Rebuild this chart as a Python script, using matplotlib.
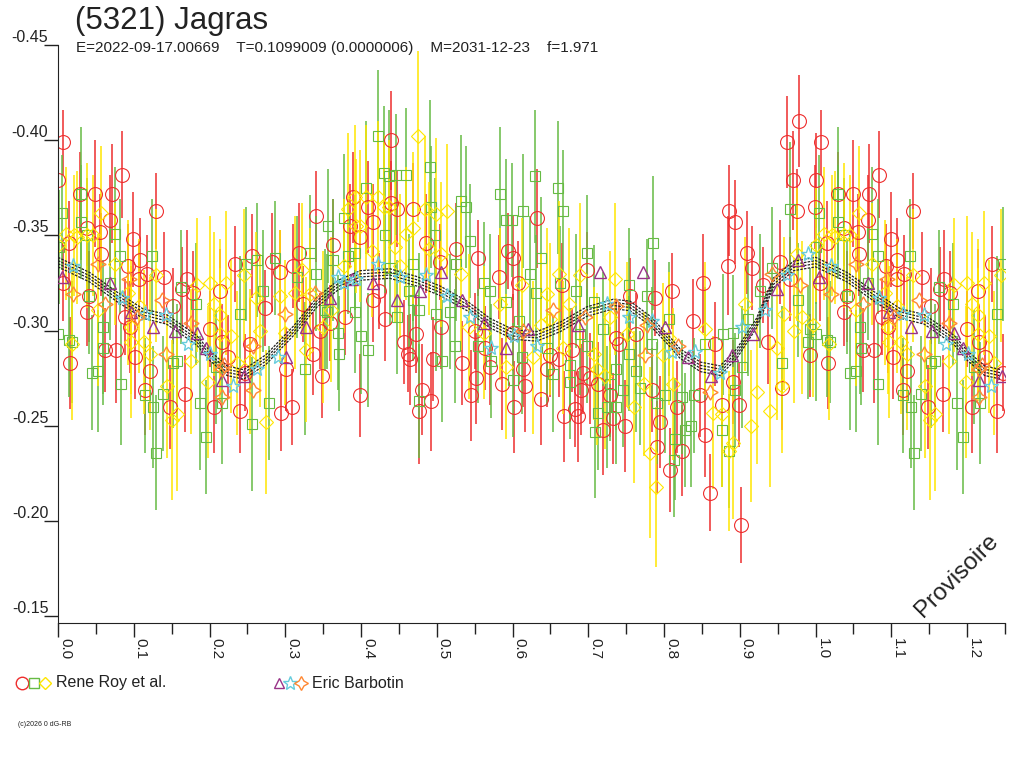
import numpy as np
import matplotlib
matplotlib.use('Agg')
import matplotlib.pyplot as plt
from matplotlib.lines import Line2D

# (phase, magnitude, error), phases 0..1
# points with phase < 0.25 are repeated at phase + 1 as on the original
roy_red = [
    (0.000, -0.379, .025), (0.006, -0.325, .020), (0.007, -0.399, .017), (0.015, -0.346, .022), (0.016, -0.283, .024),
    (0.029, -0.372, .022), (0.038, -0.354, .020), (0.038, -0.310, .018), (0.041, -0.318, .024), (0.049, -0.372, .028),
    (0.056, -0.352, .020), (0.057, -0.340, .022), (0.062, -0.290, .022), (0.069, -0.358, .024), (0.071, -0.372, .026),
    (0.077, -0.290, .028), (0.084, -0.382, .023), (0.088, -0.307, .020), (0.093, -0.334, .022), (0.095, -0.302, .024),
    (0.099, -0.348, .025), (0.102, -0.286, .022), (0.107, -0.327, .020), (0.108, -0.337, .022), (0.115, -0.269, .024),
    (0.117, -0.330, .020), (0.121, -0.279, .022), (0.129, -0.363, .020), (0.140, -0.328, .024), (0.148, -0.260, .022),
    (0.152, -0.313, .020), (0.164, -0.322, .022), (0.168, -0.267, .020), (0.170, -0.327, .026), (0.178, -0.320, .022),
    (0.200, -0.301, .020), (0.206, -0.260, .024), (0.214, -0.321, .022), (0.216, -0.294, .020), (0.224, -0.286, .022),
    (0.233, -0.335, .020), (0.240, -0.258, .022), (0.247, -0.278, .020), (0.253, -0.293, .024), (0.256, -0.339, .022),
    (0.273, -0.312, .020), (0.282, -0.336, .026), (0.293, -0.331, .022), (0.295, -0.257, .020), (0.301, -0.280, .022),
    (0.309, -0.260, .020), (0.310, -0.334, .022), (0.318, -0.341, .026), (0.323, -0.314, .020), (0.337, -0.288, .022),
    (0.341, -0.360, .024), (0.346, -0.300, .020), (0.349, -0.276, .022), (0.359, -0.304, .020), (0.363, -0.345, .024),
    (0.379, -0.307, .020), (0.385, -0.355, .022), (0.390, -0.370, .024), (0.399, -0.266, .022), (0.399, -0.349, .020),
    (0.409, -0.365, .024), (0.416, -0.357, .020), (0.416, -0.316, .022), (0.424, -0.321, .020), (0.432, -0.306, .022),
    (0.440, -0.400, .026), (0.440, -0.367, .022), (0.447, -0.364, .020), (0.457, -0.294, .022), (0.462, -0.288, .020),
    (0.465, -0.285, .024), (0.469, -0.364, .024), (0.473, -0.298, .020), (0.477, -0.258, .028), (0.480, -0.269, .024),
    (0.486, -0.346, .026), (0.492, -0.263, .026), (0.495, -0.285, .022), (0.504, -0.336, .020), (0.506, -0.302, .022),
    (0.525, -0.343, .024), (0.533, -0.283, .022), (0.545, -0.266, .024), (0.550, -0.300, .020), (0.552, -0.275, .024),
    (0.554, -0.338, .020), (0.564, -0.291, .022), (0.570, -0.281, .020), (0.582, -0.328, .022), (0.586, -0.272, .024),
    (0.594, -0.342, .020), (0.601, -0.338, .022), (0.601, -0.299, .020), (0.602, -0.260, .024), (0.607, -0.325, .022),
    (0.614, -0.280, .020), (0.616, -0.271, .024), (0.632, -0.359, .026), (0.637, -0.264, .024), (0.645, -0.280, .020),
    (0.650, -0.287, .022), (0.661, -0.285, .020), (0.665, -0.324, .022), (0.668, -0.255, .024), (0.678, -0.290, .022),
    (0.682, -0.259, .020), (0.687, -0.255, .024), (0.690, -0.269, .024), (0.693, -0.278, .022), (0.698, -0.332, .020),
    (0.702, -0.275, .024), (0.713, -0.272, .022), (0.720, -0.248, .024), (0.729, -0.266, .022), (0.733, -0.254, .024),
    (0.737, -0.296, .020), (0.741, -0.293, .022), (0.749, -0.250, .024), (0.755, -0.318, .020), (0.763, -0.298, .022),
    (0.784, -0.269, .022), (0.788, -0.317, .020), (0.790, -0.239, .024), (0.795, -0.252, .024), (0.808, -0.227, .022),
    (0.811, -0.321, .020), (0.817, -0.260, .024), (0.823, -0.237, .024), (0.838, -0.305, .022), (0.847, -0.266, .022),
    (0.852, -0.325, .026), (0.854, -0.245, .022), (0.860, -0.215, .020), (0.867, -0.293, .022), (0.876, -0.261, .022),
    (0.884, -0.334, .026), (0.886, -0.363, .024), (0.891, -0.273, .022), (0.894, -0.357, .022), (0.899, -0.261, .022),
    (0.902, -0.198, .020), (0.909, -0.341, .022), (0.916, -0.333, .022), (0.931, -0.324, .020), (0.937, -0.294, .022),
    (0.953, -0.336, .022), (0.955, -0.270, .022), (0.962, -0.399, .024), (0.966, -0.327, .022), (0.970, -0.379, .026),
    (0.976, -0.363, .022), (0.978, -0.410, .024), (0.993, -0.287, .022), (0.999, -0.365, .022),
]

roy_green = [
    (0.000, -0.298, .035), (0.001, -0.344, .030), (0.005, -0.362, .030), (0.015, -0.295, .030), (0.019, -0.294, .032),
    (0.030, -0.372, .035), (0.030, -0.357, .030), (0.038, -0.350, .030), (0.041, -0.318, .030), (0.045, -0.278, .030),
    (0.053, -0.279, .032), (0.059, -0.302, .035), (0.060, -0.291, .030), (0.069, -0.325, .030), (0.075, -0.351, .035),
    (0.082, -0.339, .030), (0.083, -0.272, .032), (0.115, -0.266, .030), (0.124, -0.339, .030), (0.126, -0.260, .032),
    (0.130, -0.236, .030), (0.139, -0.267, .030), (0.152, -0.283, .034), (0.157, -0.284, .030), (0.163, -0.323, .030),
    (0.182, -0.314, .032), (0.187, -0.262, .035), (0.195, -0.244, .030), (0.209, -0.281, .030), (0.217, -0.262, .032),
    (0.240, -0.309, .030), (0.248, -0.335, .030), (0.256, -0.251, .035), (0.263, -0.337, .030), (0.270, -0.321, .032),
    (0.279, -0.262, .030), (0.286, -0.338, .030), (0.315, -0.328, .032), (0.326, -0.280, .035), (0.333, -0.341, .030),
    (0.341, -0.330, .030), (0.352, -0.311, .032), (0.355, -0.310, .030), (0.356, -0.355, .030), (0.363, -0.337, .032),
    (0.370, -0.299, .030), (0.371, -0.288, .030), (0.377, -0.359, .034), (0.383, -0.339, .030), (0.392, -0.341, .030),
    (0.392, -0.310, .032), (0.400, -0.297, .030), (0.407, -0.375, .035), (0.409, -0.290, .030), (0.423, -0.402, .035),
    (0.430, -0.383, .035), (0.432, -0.350, .030), (0.437, -0.381, .035), (0.438, -0.333, .030), (0.446, -0.382, .032),
    (0.447, -0.307, .030), (0.460, -0.382, .035), (0.463, -0.321, .030), (0.468, -0.316, .032), (0.469, -0.335, .030),
    (0.476, -0.263, .030), (0.477, -0.311, .030), (0.491, -0.386, .035), (0.492, -0.365, .032), (0.498, -0.350, .030),
    (0.499, -0.309, .030), (0.507, -0.284, .032), (0.517, -0.310, .030), (0.524, -0.292, .030), (0.526, -0.335, .030),
    (0.532, -0.368, .035), (0.539, -0.365, .032), (0.544, -0.347, .030), (0.554, -0.292, .030), (0.562, -0.325, .032),
    (0.570, -0.321, .030), (0.571, -0.284, .030), (0.584, -0.372, .035), (0.591, -0.315, .030), (0.592, -0.358, .032),
    (0.599, -0.358, .030), (0.600, -0.274, .030), (0.608, -0.305, .032), (0.613, -0.286, .030), (0.614, -0.363, .030),
    (0.623, -0.330, .030), (0.630, -0.381, .035), (0.631, -0.320, .030), (0.637, -0.338, .032), (0.645, -0.291, .030),
    (0.653, -0.277, .030), (0.660, -0.375, .035), (0.663, -0.325, .030), (0.667, -0.363, .032), (0.676, -0.282, .030),
    (0.676, -0.273, .030), (0.684, -0.321, .030), (0.689, -0.298, .032), (0.698, -0.341, .030), (0.698, -0.292, .030),
    (0.707, -0.315, .030), (0.709, -0.247, .035), (0.713, -0.257, .030), (0.720, -0.301, .030), (0.724, -0.260, .032),
    (0.729, -0.272, .030), (0.737, -0.260, .030), (0.737, -0.280, .032), (0.746, -0.269, .030), (0.754, -0.324, .030),
    (0.754, -0.288, .030), (0.763, -0.279, .032), (0.768, -0.270, .030), (0.778, -0.318, .030), (0.784, -0.293, .030),
    (0.786, -0.346, .035), (0.790, -0.262, .032), (0.801, -0.266, .030), (0.806, -0.306, .030), (0.813, -0.232, .030),
    (0.815, -0.243, .032), (0.823, -0.265, .030), (0.828, -0.248, .030), (0.836, -0.250, .032), (0.839, -0.266, .030),
    (0.854, -0.293, .030), (0.877, -0.248, .030), (0.878, -0.298, .032), (0.886, -0.237, .030), (0.891, -0.299, .030),
    (0.894, -0.269, .030), (0.903, -0.281, .032), (0.911, -0.306, .030), (0.927, -0.321, .030), (0.942, -0.333, .032),
    (0.955, -0.283, .030), (0.966, -0.364, .035), (0.977, -0.316, .030), (0.990, -0.294, .030), (0.993, -0.301, .032),
]

roy_yellow = [
    (0.000, -0.345, .030), (0.011, -0.351, .035), (0.018, -0.293, .040), (0.021, -0.350, .032), (0.025, -0.349, .035),
    (0.038, -0.350, .038), (0.046, -0.350, .032), (0.053, -0.311, .040), (0.057, -0.362, .035), (0.075, -0.335, .032),
    (0.092, -0.320, .038), (0.096, -0.302, .035), (0.097, -0.294, .040), (0.107, -0.313, .035), (0.113, -0.294, .038),
    (0.121, -0.288, .040), (0.129, -0.329, .035), (0.144, -0.271, .038), (0.151, -0.253, .042), (0.157, -0.256, .040),
    (0.176, -0.284, .038), (0.183, -0.324, .035), (0.198, -0.273, .040), (0.200, -0.325, .035), (0.206, -0.314, .038),
    (0.214, -0.308, .040), (0.214, -0.298, .035), (0.222, -0.325, .038), (0.229, -0.297, .040), (0.236, -0.283, .038),
    (0.245, -0.329, .035), (0.253, -0.284, .038), (0.261, -0.317, .035), (0.267, -0.300, .040), (0.275, -0.252, .038),
    (0.293, -0.318, .035), (0.300, -0.299, .038), (0.313, -0.320, .040), (0.322, -0.332, .035), (0.328, -0.290, .038),
    (0.333, -0.319, .035), (0.350, -0.302, .040), (0.361, -0.311, .038), (0.377, -0.334, .035), (0.383, -0.364, .040),
    (0.392, -0.370, .038), (0.394, -0.355, .035), (0.399, -0.355, .040), (0.407, -0.370, .038), (0.414, -0.342, .035),
    (0.422, -0.370, .040), (0.430, -0.365, .038), (0.437, -0.365, .035), (0.445, -0.344, .040), (0.451, -0.334, .038),
    (0.460, -0.351, .035), (0.468, -0.354, .040), (0.475, -0.402, .045), (0.485, -0.364, .038), (0.490, -0.343, .035),
    (0.499, -0.361, .040), (0.506, -0.340, .038), (0.513, -0.363, .035), (0.532, -0.330, .040), (0.543, -0.302, .038),
    (0.562, -0.299, .035), (0.584, -0.314, .040), (0.591, -0.281, .038), (0.613, -0.324, .035), (0.627, -0.286, .040),
    (0.638, -0.303, .038), (0.645, -0.319, .035), (0.650, -0.306, .040), (0.661, -0.330, .038), (0.667, -0.291, .035),
    (0.674, -0.314, .040), (0.689, -0.329, .038), (0.707, -0.288, .035), (0.711, -0.280, .040), (0.722, -0.276, .038),
    (0.728, -0.307, .035), (0.735, -0.327, .040), (0.751, -0.298, .038), (0.760, -0.260, .040), (0.773, -0.272, .038),
    (0.782, -0.236, .045), (0.789, -0.218, .042), (0.798, -0.287, .038), (0.806, -0.296, .035), (0.812, -0.272, .040),
    (0.854, -0.301, .035), (0.865, -0.257, .040), (0.877, -0.256, .038), (0.886, -0.237, .042), (0.891, -0.241, .040),
    (0.907, -0.314, .035), (0.915, -0.250, .040), (0.922, -0.268, .038), (0.940, -0.258, .040), (0.949, -0.291, .038),
    (0.955, -0.271, .035), (0.958, -0.309, .040), (0.971, -0.300, .038), (0.975, -0.340, .035), (0.982, -0.307, .040),
    (0.997, -0.303, .038),
]

barbotin_tri = [
    (0.005, -0.328), (0.069, -0.325), (0.097, -0.310), (0.126, -0.302), (0.154, -0.300), (0.183, -0.299),
    (0.195, -0.291), (0.216, -0.274), (0.246, -0.276), (0.301, -0.286), (0.328, -0.302), (0.359, -0.317),
    (0.388, -0.327), (0.416, -0.325), (0.447, -0.316), (0.478, -0.321), (0.506, -0.331), (0.533, -0.316),
    (0.562, -0.304), (0.591, -0.291), (0.621, -0.301), (0.686, -0.303), (0.715, -0.331), (0.772, -0.331),
    (0.801, -0.302), (0.832, -0.286), (0.862, -0.276), (0.889, -0.287), (0.918, -0.298), (0.949, -0.322),
    (0.977, -0.337),
]

barbotin_star = [
    (0.020, -0.334), (0.084, -0.317), (0.115, -0.309), (0.143, -0.308), (0.172, -0.293), (0.201, -0.288),
    (0.231, -0.271), (0.263, -0.280), (0.291, -0.286), (0.370, -0.328), (0.377, -0.325), (0.394, -0.327),
    (0.423, -0.335), (0.452, -0.328), (0.486, -0.329), (0.514, -0.318), (0.544, -0.307), (0.572, -0.291),
    (0.602, -0.297), (0.632, -0.292), (0.724, -0.314), (0.754, -0.307), (0.784, -0.305), (0.811, -0.289),
    (0.841, -0.289), (0.874, -0.278), (0.903, -0.302), (0.933, -0.311), (0.962, -0.329), (0.990, -0.340),
]

barbotin_orange = [
    (0.020, -0.319), (0.053, -0.335), (0.062, -0.314), (0.094, -0.327), (0.104, -0.307), (0.137, -0.316),
    (0.143, -0.288), (0.176, -0.304), (0.216, -0.280), (0.216, -0.265), (0.219, -0.282), (0.257, -0.269),
    (0.258, -0.292), (0.300, -0.309), (0.339, -0.320), (0.614, -0.300), (0.654, -0.311), (0.696, -0.307),
    (0.737, -0.313), (0.775, -0.287), (0.777, -0.303), (0.819, -0.292), (0.860, -0.268), (0.943, -0.330),
    (0.980, -0.324),
]

# fitted lightcurve, read along the centre of the band
fit_phase = [0.000, 0.042, 0.077, 0.112, 0.143, 0.165, 0.183, 0.200, 0.223, 0.245, 0.275, 0.311,
             0.342, 0.370, 0.399, 0.438, 0.473, 0.504, 0.540, 0.570, 0.601, 0.632, 0.663, 0.698,
             0.733, 0.755, 0.782, 0.808, 0.821, 0.848, 0.874, 0.896, 0.922, 0.944, 0.971, 1.000]
fit_mag = [-0.336, -0.328, -0.318, -0.309, -0.306, -0.300, -0.295, -0.287, -0.279, -0.277, -0.285, -0.300,
           -0.315, -0.324, -0.329, -0.330, -0.326, -0.321, -0.313, -0.304, -0.298, -0.297, -0.302, -0.310,
           -0.314, -0.313, -0.305, -0.294, -0.288, -0.281, -0.279, -0.288, -0.304, -0.325, -0.334, -0.336]

y_ticks = [-0.45, -0.40, -0.35, -0.30, -0.25, -0.20, -0.15]
x_ticks = [0.0, 0.1, 0.2, 0.3, 0.4, 0.5, 0.6, 0.7, 0.8, 0.9, 1.0, 1.1, 1.2]

RED, GREEN, YELLOW = '#ee2d2d', '#66bb44', '#ffe600'
PURPLE, CYAN, ORANGE = '#993388', '#66ccdd', '#ff8833'
NARROW = ['Liberation Sans Narrow', 'Liberation Sans', 'DejaVu Sans']


def unwrap(data):
    arr = np.array(data, dtype=float)
    extra = arr[arr[:, 0] < 0.25].copy()
    extra[:, 0] += 1.0
    return np.vstack([arr, extra])


fig = plt.figure(figsize=(10.24, 7.68), dpi=100)
ax = fig.add_axes([58 / 1024, 1 - 623 / 768, 947 / 1024, 578 / 768])

for data, col, mk, ms in [(roy_red, RED, 'o', 10), (roy_green, GREEN, 's', 7), (roy_yellow, YELLOW, 'D', 7)]:
    d = unwrap(data)
    ax.errorbar(d[:, 0], d[:, 1], yerr=d[:, 2], fmt=mk, ms=ms, mfc='none', mec=col, mew=0.8,
                ecolor=col, elinewidth=1.1, capsize=0, zorder=2)

# fit band: a few parallel dashed curves
fp = np.array(fit_phase)
fm = np.array(fit_mag)
fx = np.concatenate([fp, fp[fp <= 0.26][1:] + 1.0])
fy = np.concatenate([fm, fm[fp <= 0.26][1:]])
for off in (-0.0025, -0.0008, 0.0008, 0.0025):
    ax.plot(fx, fy + off, color='#222222', lw=0.9, ls=(0, (2, 1)), zorder=3)

for data, col, mk, ms in [(barbotin_tri, PURPLE, '^', 8), (barbotin_star, CYAN, '*', 11),
                          (barbotin_orange, ORANGE, (4, 1, 0), 11)]:
    d = unwrap(data)
    ax.plot(d[:, 0], d[:, 1], ls='none', marker=mk, ms=ms, mfc='none', mec=col, mew=1.0, zorder=4)

ax.set_xlim(0, 1.25)
ax.set_ylim(-0.1465, -0.45)
for s in ('top', 'right'):
    ax.spines[s].set_visible(False)
ax.spines['left'].set_color('#222222')
ax.spines['bottom'].set_color('#222222')

ax.set_yticks(y_ticks)
ax.set_yticklabels([f'{v:.2f}' for v in y_ticks], family=NARROW, fontsize=11.5, color='#222222')
for lab in ax.get_yticklabels():
    lab.set_verticalalignment('bottom')
ax.tick_params(axis='y', length=10, width=1, pad=-3, colors='#222222')

ax.set_xticks(x_ticks)
ax.set_xticks(np.array(x_ticks) + 0.05, minor=True)
ax.set_xticklabels([f'{v:.1f}' for v in x_ticks], rotation=-90, family=NARROW, fontsize=11,
                   ha='left', va='top', color='#222222')
ax.tick_params(axis='x', which='major', length=10, width=1, pad=1, colors='#222222')
ax.tick_params(axis='x', which='minor', length=8, width=1, colors='#222222')

fig.text(75 / 1024, 1 - 21 / 768, '(5321) Jagras', fontsize=22.5, family=['Liberation Sans', 'DejaVu Sans'],
         va='center', ha='left', color='#222222')
fig.text(76 / 1024, 1 - 48 / 768,
         'E=2022-09-17.00669    T=0.1099009 (0.0000006)    M=2031-12-23    f=1.971',
         fontsize=11, family=NARROW, va='center', ha='left', color='#222222')

fig.text(957 / 1024, 1 - 576 / 768, 'Provisoire', rotation=45, fontsize=17.5,
         family=['Liberation Sans', 'DejaVu Sans'], color='#222222', ha='center', va='center')

# legend row
lax = fig.add_axes([0, 0, 1, 1], facecolor='none')
lax.set_xlim(0, 1024)
lax.set_ylim(768, 0)
lax.axis('off')
for x, col, mk, ms in [(22, RED, 'o', 9), (34, GREEN, 's', 6.5), (45, YELLOW, 'D', 6.5),
                       (279, PURPLE, '^', 7), (290, CYAN, '*', 10), (301, ORANGE, (4, 1, 0), 10)]:
    lax.add_line(Line2D([x], [683], ls='none', marker=mk, ms=ms, mfc='none', mec=col, mew=1.0))
lax.text(56, 683, 'Rene Roy et al.', fontsize=11.5, family=NARROW, va='center', ha='left', color='#222222')
lax.text(312, 683, 'Eric Barbotin', fontsize=11.5, family=NARROW, va='center', ha='left', color='#222222')
lax.text(18, 725, '(c)2026 0 dG-RB', fontsize=5, family=NARROW, va='center', ha='left', color='#222222')

fig.savefig('out.png', dpi=100)
